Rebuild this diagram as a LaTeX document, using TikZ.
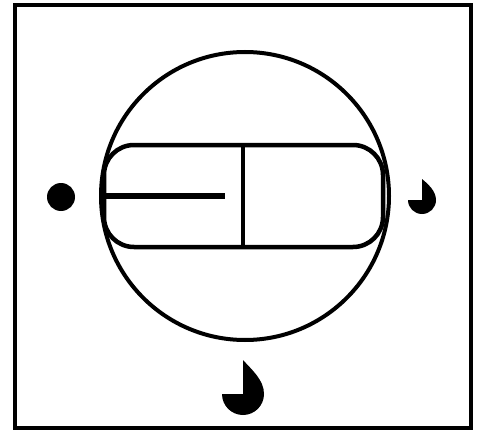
\documentclass[tikz,border=0pt]{standalone}
\begin{document}
\begin{tikzpicture}[x=1pt,y=1pt,
  frameline/.style={line width=3.5pt},
  outline/.style={line width=4pt},
  pill/.style={line width=4.5pt, rounded corners=30pt}]
\useasboundingbox (0,0) rectangle (482,432);
% frame
\draw[frameline] (15,4) rectangle (471,427);
% circle
\draw[outline] (245,236) circle[radius=144];
% rounded rectangle
\draw[pill] (104,185) rectangle (383,287);
% divider
\draw[line width=3.5pt] (243,287) -- (243,185);
% bar
\draw[line width=6.5pt] (104,236) -- (225,236);
% left dot
\fill (61,235) circle[radius=14];
% right drop
\fill (408,232) arc[start angle=180,end angle=360,radius=14]
  .. controls (436,241) and (428,248) .. (422,253) -- (422,232) -- cycle;
% bottom drop
\fill (222,38) arc[start angle=180,end angle=360,radius=21]
  .. controls (264,52) and (252,62) .. (243,72) -- (243,38) -- cycle;
\end{tikzpicture}
\end{document}
